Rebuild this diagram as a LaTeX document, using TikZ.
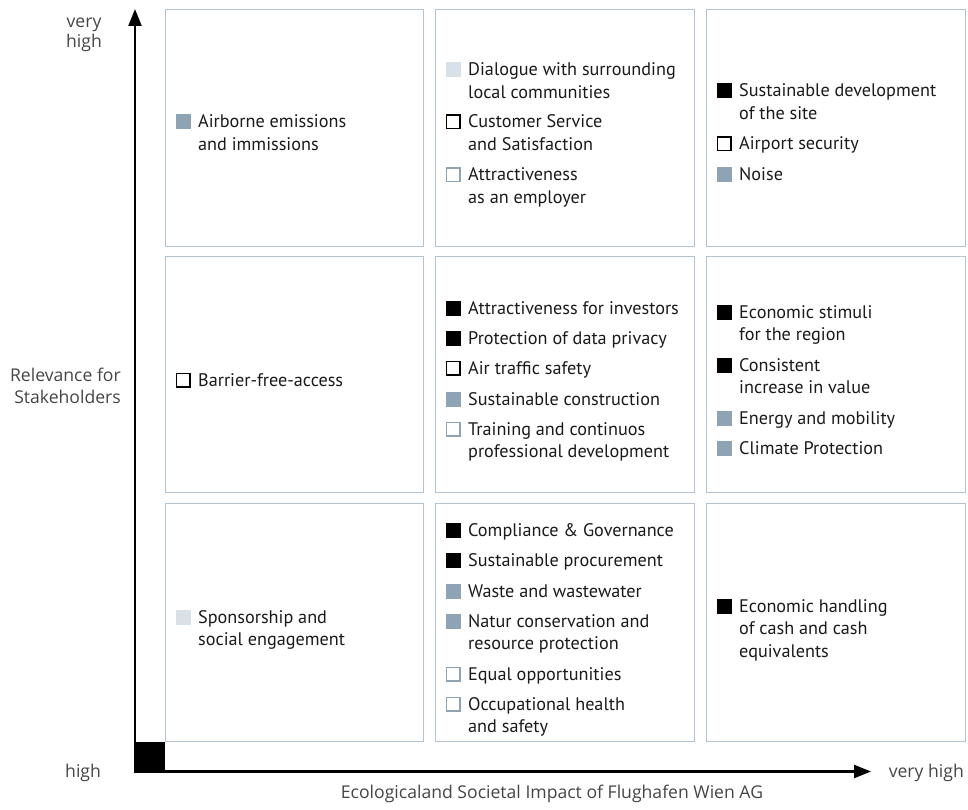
\documentclass[tikz,border=0pt]{standalone}
\usepackage{fontspec}
\setmainfont{PT Sans}
\newfontfamily\axisfont{Open Sans}
\usetikzlibrary{arrows.meta}
\definecolor{boxline}{HTML}{B3C3D0}
\definecolor{mblue}{HTML}{8EA3B4}
\definecolor{mlight}{HTML}{D8E0E8}
\definecolor{txt}{HTML}{1A1A1A}
\definecolor{axtxt}{HTML}{454545}
\tikzset{
  cell/.style={draw=boxline, line width=1pt},
  mk/.style={rectangle, inner sep=0pt, minimum size=15pt},
  mblack/.style={mk, fill=black},
  mfill/.style={mk, fill=mblue},
  mlite/.style={mk, fill=mlight},
  moutk/.style={mk, minimum size=13.4pt, draw=black, line width=1.6pt, fill=white},
  moutb/.style={mk, minimum size=13.4pt, draw=mblue, line width=1.6pt, fill=white},
  itemtxt/.style={anchor=base west, inner sep=0pt, text=txt, font=\fontsize{18.2}{22.5}\selectfont},
  axlbl/.style={inner sep=0pt, text=axtxt, font=\axisfont\fontsize{17.6}{22.5}\selectfont},
  axisline/.style={line width=2.3pt, -{Triangle[width=13pt,length=17pt]}},
}
\newcommand\linesL[1]{\begin{tabular}[t]{@{}l@{}}#1\end{tabular}}
\newcommand\linesR[1]{\begin{tabular}[t]{@{}r@{}}#1\end{tabular}}
\newcommand\linesC[1]{\begin{tabular}[t]{@{}c@{}}#1\end{tabular}}
\newcommand\mitem[5]{%
  \node[#4] (#1m) at (#2+18,#3) {};
  \node[itemtxt] (#1t) at (#2+33,#3+6) {\linesL{#5}};
}
\begin{document}
\begin{tikzpicture}[x=1pt,y=-1pt]
\useasboundingbox (0,0) rectangle (968,810);
% cells
\foreach \xl/\xr in {165/423,435/694,706/965}{
  \foreach \yt/\yb in {9.5/246,256/492.5,503.5/741}{
    \draw[cell] (\xl,\yt) rectangle (\xr,\yb);
  }
}
% axes
\fill[black] (134,741.5) rectangle (165,772.5);
\coordinate (ytip) at (135,9);
\coordinate (xtip) at (871,771.5);
\coordinate (ystart) at (135,772.5);
\coordinate (xstart) at (134,771.5);
\draw[axisline] (ystart) -- (ytip);
\draw[axisline] (xstart) -- (xtip);
% axis labels
\node[axlbl, anchor=base, font=\axisfont\fontsize{17.6}{19.5}\selectfont] (yhigh) at (84,28) {\linesC{very\\high}};
\node[axlbl, anchor=base east] (ylab) at (121,381) {\linesR{Relevance for\\Stakeholders}};
\node[axlbl, anchor=base west] (xlow) at (65,777) {high};
\node[axlbl, anchor=base east] (xhigh) at (964,777) {very high};
\node[axlbl, anchor=base] (xlab) at (552,798) {Ecologicaland Societal Impact of Flughafen Wien AG};
% column 1
\mitem{a1}{165}{122}{mfill}{Airborne emissions\\and immissions}
\mitem{a2}{165}{380}{moutk}{Barrier-free-access}
\mitem{a3}{165}{617}{mlite}{Sponsorship and\\social engagement}
% column 2, row 1
\mitem{b1}{435}{70}{mlite}{Dialogue with surrounding\\local communities}
\mitem{b2}{435}{122}{moutk}{Customer Service\\and Satisfaction}
\mitem{b3}{435}{175}{moutb}{Attractiveness\\as an employer}
% column 2, row 2
\mitem{b4}{435}{308}{mblack}{Attractiveness for investors}
\mitem{b5}{435}{338}{mblack}{Protection of data privacy}
\mitem{b6}{435}{368}{moutk}{Air traffic safety}
\mitem{b7}{435}{399}{mfill}{Sustainable construction}
\mitem{b8}{435}{429}{moutb}{Training and continuos\\professional development}
% column 2, row 3
\mitem{b9}{435}{530}{mblack}{Compliance \& Governance}
\mitem{b10}{435}{560}{mblack}{Sustainable procurement}
\mitem{b11}{435}{591}{mfill}{Waste and wastewater}
\mitem{b12}{435}{621}{mfill}{Natur conservation and\\resource protection}
\mitem{b13}{435}{674}{moutb}{Equal opportunities}
\mitem{b14}{435}{704}{moutb}{Occupational health\\and safety}
% column 3
\mitem{c1}{706}{91}{mblack}{Sustainable development\\of the site}
\mitem{c2}{706}{144}{moutk}{Airport security}
\mitem{c3}{706}{175}{mfill}{Noise}
\mitem{c4}{706}{312}{mblack}{Economic stimuli\\for the region}
\mitem{c5}{706}{365}{mblack}{Consistent\\increase in value}
\mitem{c6}{706}{418}{mfill}{Energy and mobility}
\mitem{c7}{706}{448}{mfill}{Climate Protection}
\mitem{c8}{706}{606}{mblack}{Economic handling\\of cash and cash\\equivalents}
\end{tikzpicture}
\end{document}
